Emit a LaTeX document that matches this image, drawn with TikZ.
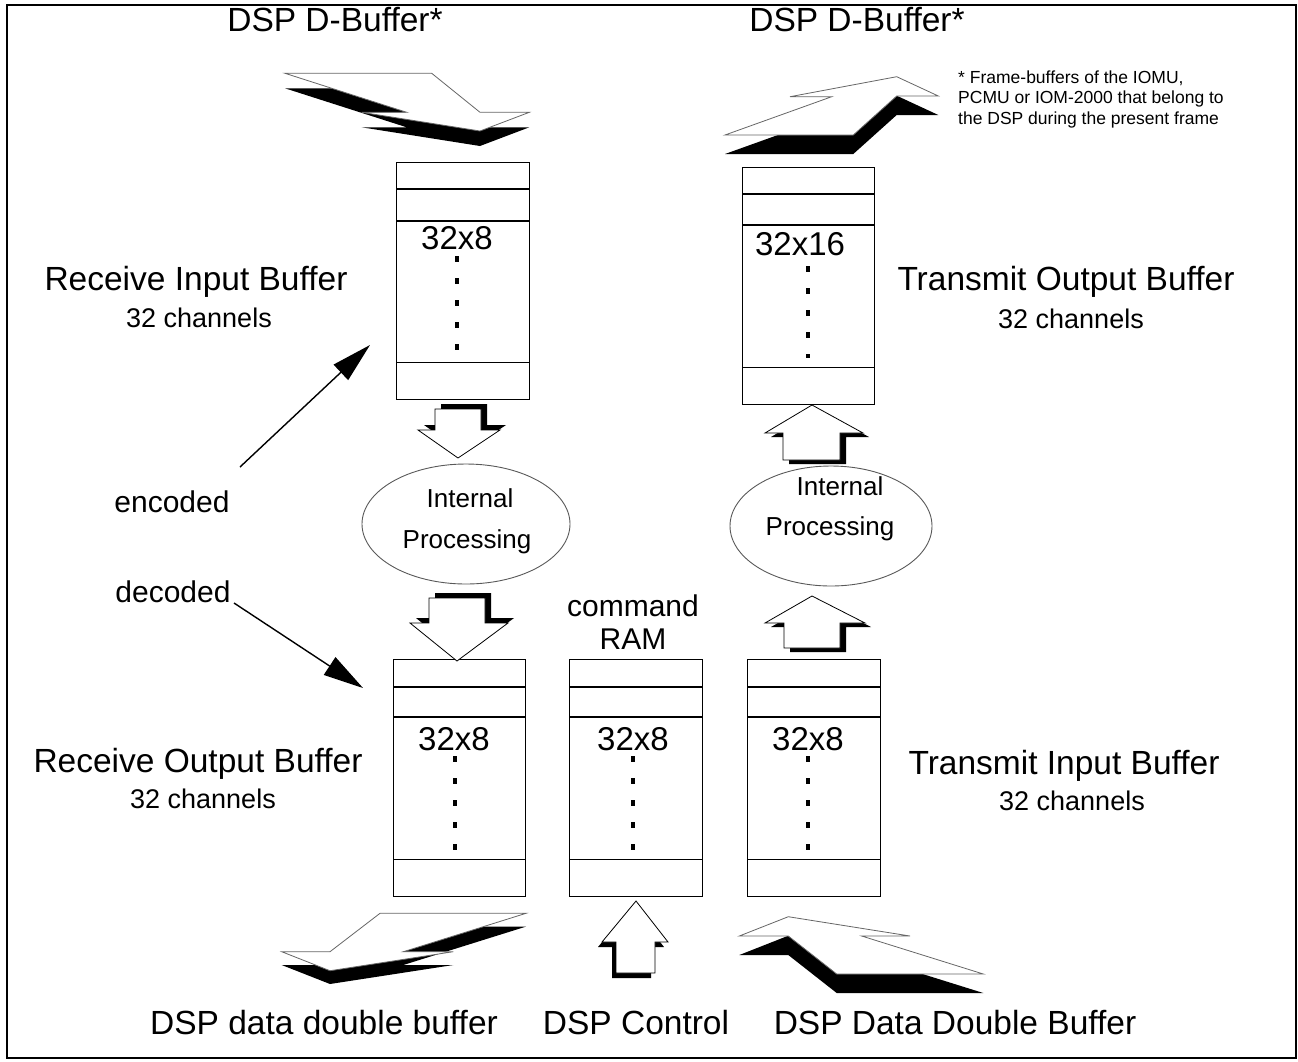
\documentclass[tikz,border=0pt]{standalone}
\usepackage{fontspec}
\setmainfont{Liberation Sans}
\usetikzlibrary{arrows.meta,shapes.geometric}
\newcommand\myribbon[2]{\fill[black,shift={#1}] #2; \filldraw[ribtop] #2;}
\newcommand\myblock[2]{\fill[black,shift={#1}] #2; \filldraw[blocktop] #2;}
\newcommand\bufdividers[4]{%
  \draw[divider] ([yshift=-#2pt]#1.north west) -- ([yshift=-#2pt]#1.north east);
  \draw[divider] ([yshift=-#3pt]#1.north west) -- ([yshift=-#3pt]#1.north east);
  \draw[divider] ([yshift=#4pt]#1.south west) -- ([yshift=#4pt]#1.south east);}
\begin{document}
\begin{tikzpicture}[x=1pt,y=-1pt,
  txtbig/.style={anchor=base,inner sep=0pt,font=\fontsize{33.5}{40}\selectfont},
  txtsub/.style={anchor=base,inner sep=0pt,font=\fontsize{27}{32}\selectfont},
  txtmed/.style={anchor=base,inner sep=0pt,font=\fontsize{30}{36}\selectfont},
  txtproc/.style={anchor=base,inner sep=0pt,font=\fontsize{26}{31}\selectfont},
  txtdim/.style={anchor=base,inner sep=0pt,font=\fontsize{33}{40}\selectfont},
  txtnote/.style={anchor=base west,inner sep=0pt,font=\fontsize{17.5}{21}\selectfont},
  bufbox/.style={draw,line width=1.3pt,minimum width=133pt,minimum height=237pt,anchor=north west,inner sep=0pt},
  divider/.style={line width=1.1pt},
  dotline/.style={line width=3.5pt,dash pattern=on 6pt off 16pt},
  procell/.style={ellipse,draw=black!65,line width=0.9pt,inner sep=0pt,minimum width=208pt,minimum height=120pt},
  ribtop/.style={fill=white,draw=black!60,line width=0.8pt},
  blocktop/.style={fill=white,draw=black,line width=0.8pt},
  ptr/.style={line width=1.4pt,-{Triangle[length=40pt,width=21pt]}}
]
\useasboundingbox (0,0) rectangle (1298,1061);
\draw[line width=1.5pt] (7,5) rectangle (1296,1058);

% titles
\node[txtbig] (t1) at (335,31) {DSP D-Buffer*};
\node[txtbig] (t2) at (857,31) {DSP D-Buffer*};
\node[txtnote] (n1) at (958,83) {* Frame-buffers of the IOMU,};
\node[txtnote] (n2) at (958,103.5) {PCMU or IOM-2000 that belong to};
\node[txtnote] (n3) at (958,124) {the DSP during the present frame};

% ribbons
\myribbon{(0,15)}{(285,73.3) -- (406.7,112.3) -- (361.7,112.3) -- (480,131) -- (529.3,112.3) -- (480,112.3) -- (431.7,73.3) -- cycle}
\myribbon{(0,19)}{(790,96.7) -- (896.7,76.7) -- (938.3,96) -- (896.7,96) -- (853.3,135) -- (725,135) -- (831.7,96.7) -- cycle}
\myribbon{(0,13.3)}{(380,913.3) -- (526,913.3) -- (403.3,951.7) -- (453.3,951.7) -- (330,970.7) -- (281.7,951.7) -- (330,951.7) -- cycle}
\myribbon{(0,19)}{(739.3,936) -- (788.3,916.7) -- (910,936) -- (861.7,936) -- (983.3,974) -- (836.7,974) -- (788.3,936) -- cycle}

% buffers
\node[bufbox] (rib) at (396,162) {};
\bufdividers{rib}{27}{59}{38}
\node[txtdim] (rib32) at (457,249) {32x8};
\draw[dotline] (457,256) -- (457,350);

\node[bufbox,minimum width=132pt] (tob) at (742,167) {};
\bufdividers{tob}{27}{58}{38}
\node[txtdim] (tob32) at (800,255) {32x16};
\draw[dotline] (808,266) -- (808,358);

\node[bufbox,minimum width=132pt] (rob) at (393,659) {};
\bufdividers{rob}{28}{58}{38}
\node[txtdim] (rob32) at (454,750) {32x8};
\draw[dotline] (455,756) -- (455,852);

\node[bufbox] (cram) at (569,659) {};
\bufdividers{cram}{28}{58}{38}
\node[txtdim] (cram32) at (633,750) {32x8};
\draw[dotline] (633,756) -- (633,852);

\node[bufbox] (tib) at (747,659) {};
\bufdividers{tib}{28}{58}{38}
\node[txtdim] (tib32) at (808,750) {32x8};
\draw[dotline] (808,756) -- (808,852);

% processing
\node[procell] (ipL) at (466,524) {};
\node[txtproc] (ipL1) at (470,507) {Internal};
\node[txtproc] (ipL2) at (467,548) {Processing};
\node[procell,minimum width=202pt,minimum height=120pt] (ipR) at (831,526) {};
\node[txtproc] (ipR1) at (840,495) {Internal};
\node[txtproc] (ipR2) at (830,535) {Processing};

% block arrows
\myblock{(6,-5)}{(435,409) -- (481,409) -- (481,430) -- (500,430) -- (458,458) -- (418,430) -- (435,430) -- cycle}
\myblock{(6,-5)}{(429,598) -- (485,598) -- (485,623) -- (508,623) -- (457,661) -- (410,623) -- (429,623) -- cycle}
\myblock{(6,4)}{(812,405) -- (863,433) -- (840,433) -- (840,460) -- (783,460) -- (783,433) -- (765,433) -- cycle}
\myblock{(6,4)}{(812,596) -- (865,623) -- (840,623) -- (840,648) -- (784,648) -- (784,623) -- (765,623) -- cycle}
\myblock{(-4,5)}{(636,901) -- (668,942) -- (655,942) -- (655,973) -- (616,973) -- (616,942) -- (602,942) -- cycle}

% side labels
\node[txtbig] (ribl) at (196,290) {Receive Input Buffer};
\node[txtsub] (ribc) at (199,327.5) {32 channels};
\node[txtbig] (tobl) at (1066,290) {Transmit Output Buffer};
\node[txtsub] (tobc) at (1071,328) {32 channels};
\node[txtbig] (robl) at (198,772) {Receive Output Buffer};
\node[txtsub] (robc) at (203,808) {32 channels};
\node[txtbig] (tibl) at (1064,774) {Transmit Input Buffer};
\node[txtsub] (tibc) at (1072,810) {32 channels};
\node[txtmed] (encl) at (172,512) {encoded};
\node[txtmed] (decl) at (173,602) {decoded};
\node[txtmed] (cmd1) at (633,616) {command};
\node[txtmed] (cmd2) at (633,649) {RAM};

% bottom labels
\node[txtbig] (b1) at (324,1034) {DSP data double buffer};
\node[txtbig] (b2) at (636,1034) {DSP Control};
\node[txtbig] (b3) at (955,1034) {DSP Data Double Buffer};

% encoded / decoded pointers
\coordinate (encS) at (240,467);
\coordinate (encT) at (370,345);
\coordinate (decS) at (234,603);
\coordinate (decT) at (363,688);
\draw[ptr] (encS) -- (encT);
\draw[ptr] (decS) -- (decT);
\end{tikzpicture}
\end{document}
